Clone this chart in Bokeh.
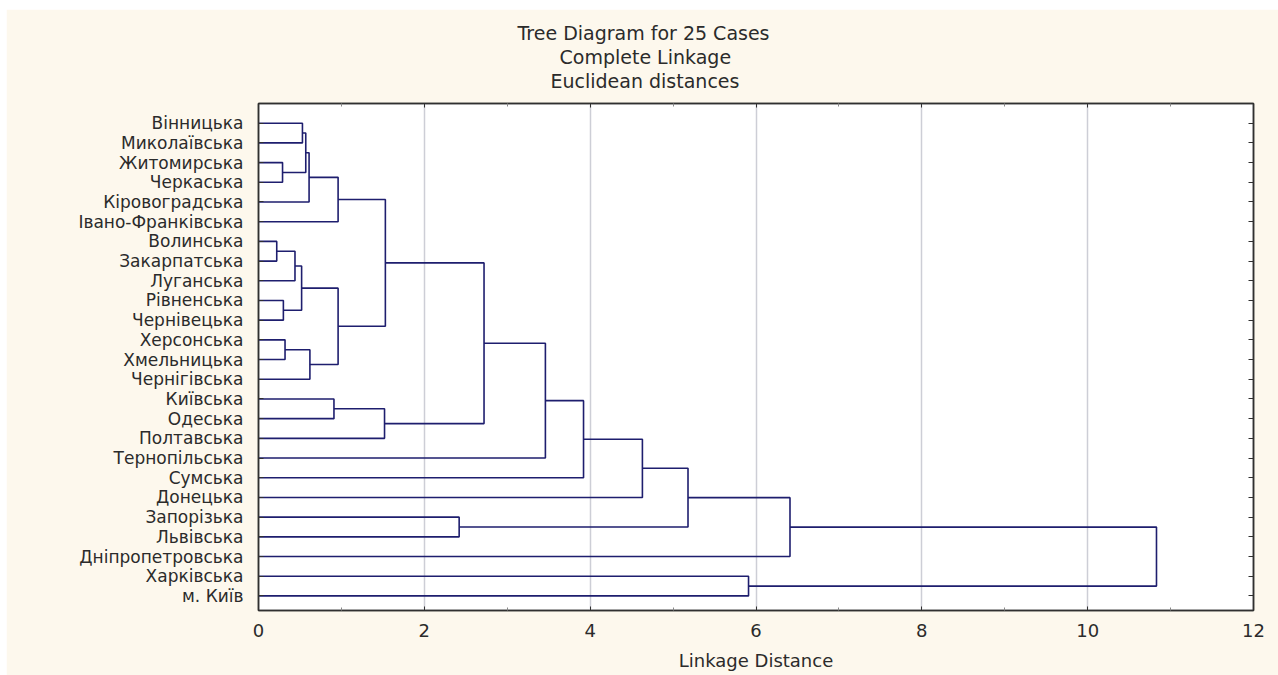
from bokeh.plotting import figure
from bokeh.models import Range1d, LinearAxis, FixedTicker, Title
from bokeh.embed import file_html
from bokeh.resources import INLINE

# ---- data ----
leaves = ["Вінницька", "Миколаївська", "Житомирська", "Черкаська", "Кіровоградська",
          "Івано-Франківська", "Волинська", "Закарпатська", "Луганська", "Рівненська",
          "Чернівецька", "Херсонська", "Хмельницька", "Чернігівська", "Київська",
          "Одеська", "Полтавська", "Тернопільська", "Сумська", "Донецька",
          "Запорізька", "Львівська", "Дніпропетровська", "Харківська", "м. Київ"]
# merges: node index = 25 + row
merge_a = [0, 2, 25, 27, 28, 6, 30, 9, 31, 11, 34, 33, 29, 14, 38, 37, 40, 41, 42, 20, 43, 45, 23, 46]
merge_b = [1, 3, 26, 4, 5, 7, 8, 10, 32, 12, 13, 35, 36, 15, 16, 39, 17, 18, 19, 21, 44, 22, 24, 47]
merge_h = [0.53, 0.29, 0.57, 0.61, 0.96, 0.22, 0.44, 0.30, 0.52, 0.32, 0.62, 0.96, 1.53,
           0.91, 1.52, 2.72, 3.46, 3.92, 4.63, 2.42, 5.18, 6.41, 5.91, 10.83]
x_ticks = [0, 2, 4, 6, 8, 10, 12]
x_minor = [1, 3, 5, 7, 9, 11]
title_lines = ["Tree Diagram for 25 Cases", "Complete Linkage", "Euclidean distances"]
x_label = "Linkage Distance"

FONT = "DejaVu Sans"
LINE = "#1e1e6e"
TXT = "#2b2b2b"
AX = "#303030"

n = len(leaves)
node_y = [i + 1 for i in range(n)]
node_h = [0.0] * n
xs, ys = [], []
for a, b, h in zip(merge_a, merge_b, merge_h):
    ya, yb = node_y[a], node_y[b]
    xs.append([node_h[a], h, h, node_h[b]])
    ys.append([ya, ya, yb, yb])
    node_y.append((ya + yb) / 2)
    node_h.append(h)

p = figure(width=1272, height=666, x_range=Range1d(0, 12), y_range=Range1d(25.74, 0),
           output_backend="svg", toolbar_location=None,
           x_axis_location=None, y_axis_location=None,
           min_border_left=252, min_border_right=25, min_border_top=94, min_border_bottom=65,
           background_fill_color="white", border_fill_color="#fdf8ed",
           outline_line_color=AX, outline_line_width=1.5)
p.margin = (9, 0, 0, 6)

p.multi_line(xs, ys, line_color=LINE, line_width=1.6)

xt = FixedTicker(ticks=x_ticks, minor_ticks=x_minor)
yt = FixedTicker(ticks=list(range(1, n + 1)))

bottom = LinearAxis(ticker=xt, axis_label=x_label,
                    axis_line_color=AX, axis_line_width=1.5,
                    major_tick_in=4, major_tick_out=0, minor_tick_in=3, minor_tick_out=0,
                    major_tick_line_color=AX, minor_tick_line_color="#888888",
                    major_label_text_font=FONT, major_label_text_font_size="18px",
                    major_label_text_color=TXT, major_label_standoff=13,
                    axis_label_text_font=FONT, axis_label_text_font_size="18px",
                    axis_label_text_font_style="normal", axis_label_text_color=TXT,
                    axis_label_standoff=10)
p.add_layout(bottom, "below")

top = LinearAxis(ticker=xt, axis_line_color=AX, axis_line_width=1.5,
                 major_tick_in=4, major_tick_out=0, minor_tick_in=3, minor_tick_out=0,
                 major_tick_line_color=AX, minor_tick_line_color="#888888",
                 major_label_overrides={t: "" for t in x_ticks}, major_label_standoff=0)
p.add_layout(top, "above")

left = LinearAxis(ticker=yt, axis_line_color=AX, axis_line_width=1.5,
                  major_tick_in=5, major_tick_out=0, minor_tick_line_color=None,
                  major_tick_line_color=AX,
                  major_label_overrides={i + 1: name for i, name in enumerate(leaves)},
                  major_label_text_font=FONT, major_label_text_font_size="17px",
                  major_label_text_color=TXT, major_label_standoff=15)
p.add_layout(left, "left")

right = LinearAxis(ticker=yt, axis_line_color=AX, axis_line_width=1.5,
                   major_tick_in=5, major_tick_out=0, minor_tick_line_color=None,
                   major_tick_line_color=AX,
                   major_label_overrides={i + 1: "" for i in range(n)}, major_label_standoff=0)
p.add_layout(right, "right")

p.xgrid.ticker = xt
p.xgrid.grid_line_color = "#cdced6"
p.xgrid.grid_line_width = 1.5
p.ygrid.grid_line_color = None

# spacer between the frame and the title block
p.add_layout(Title(text=" ", standoff=0, text_font=FONT, text_font_size="9px"), "above")

# titles: stacked outward from the frame, so add the last line first
title_offsets = [259, 301, 292]
for t, off in reversed(list(zip(title_lines, title_offsets))):
    p.add_layout(Title(text=t, align="left", offset=off, standoff=0,
                       text_font=FONT, text_font_size="19px", text_font_style="normal",
                       text_color=TXT), "above")

open("out.html", "w").write(file_html(p, INLINE))
